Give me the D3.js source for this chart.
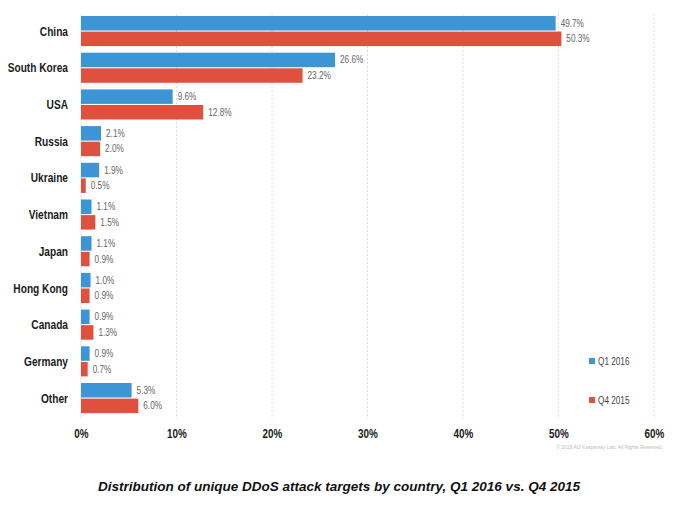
<!DOCTYPE html>
<html>
<head>
<meta charset="utf-8">
<script src="https://cdn.jsdelivr.net/npm/d3@7"></script>
<style>
  body { margin: 0; background: #fff; }
  svg { display: block; }
</style>
</head>
<body>
<div id="chart"></div>
<script>
const countries = ["China", "South Korea", "USA", "Russia", "Ukraine", "Vietnam", "Japan", "Hong Kong", "Canada", "Germany", "Other"];
const seriesNames = ["Q1 2016", "Q4 2015"];
const q1_2016 = [49.7, 26.6, 9.6, 2.1, 1.9, 1.1, 1.1, 1.0, 0.9, 0.9, 5.3];
const q4_2015 = [50.3, 23.2, 12.8, 2.0, 0.5, 1.5, 0.9, 0.9, 1.3, 0.7, 6.0];
const xTicks = [0, 10, 20, 30, 40, 50, 60];
const colors = ["#3d95d6", "#e0503f"];

const width = 700, height = 505;
const font = "'Liberation Sans', Arial, sans-serif";

// squeeze text horizontally, the original uses a condensed face
function condense(sel, k) {
  sel.each(function() {
    const w = this.getComputedTextLength();
    d3.select(this).attr("textLength", w * k).attr("lengthAdjust", "spacingAndGlyphs");
  });
}

const svg = d3.select("#chart").append("svg")
    .attr("width", width).attr("height", height);

const x = d3.scaleLinear().domain([0, 60]).range([81, 654]);

const y = d3.scaleBand()
    .domain(countries)
    .range([12.7, 416.4])
    .paddingInner(0.18)
    .paddingOuter(0.09);

const ySub = d3.scaleBand()
    .domain(seriesNames)
    .range([0, y.bandwidth()])
    .paddingInner(0.07);

// grid
svg.append("g").selectAll("line")
    .data(xTicks.filter(d => d > 0))
  .enter().append("line")
    .attr("x1", d => x(d)).attr("x2", d => x(d))
    .attr("y1", 14).attr("y2", 419)
    .style("stroke", "#dcdcdc")
    .style("stroke-width", 1)
    .style("stroke-dasharray", "2,2");

svg.append("line")
    .attr("x1", x(0)).attr("x2", x(0))
    .attr("y1", 14).attr("y2", 419)
    .style("stroke", "#e6e6e6");

const rows = countries.map((c, i) => ({country: c, values: [q1_2016[i], q4_2015[i]]}));

const groups = svg.append("g").selectAll("g")
    .data(rows)
  .enter().append("g")
    .attr("transform", d => "translate(0," + y(d.country) + ")");

groups.selectAll("rect")
    .data(d => d.values.map((v, j) => ({series: seriesNames[j], value: v, j: j})))
  .enter().append("rect")
    .attr("x", x(0))
    .attr("y", d => ySub(d.series))
    .attr("width", d => x(d.value) - x(0))
    .attr("height", ySub.bandwidth())
    .style("fill", d => colors[d.j]);

groups.selectAll("text.val")
    .data(d => d.values.map((v, j) => ({series: seriesNames[j], value: v})))
  .enter().append("text")
    .attr("class", "val")
    .attr("x", d => x(d.value) + 5)
    .attr("y", d => ySub(d.series) + ySub.bandwidth() / 2)
    .attr("dy", "0.35em")
    .style("font-family", font)
    .style("font-size", "10px")
    .style("fill", "#666")
    .text(d => d.value.toFixed(1) + "%")
    .call(condense, 0.82);

// country labels
svg.append("g").selectAll("text")
    .data(countries)
  .enter().append("text")
    .attr("x", 68)
    .attr("y", d => y(d) + y.bandwidth() / 2)
    .attr("dy", "0.35em")
    .attr("text-anchor", "end")
    .style("font-family", font)
    .style("font-weight", "bold")
    .style("font-size", "13px")
    .style("fill", "#1a1a1a")
    .text(d => d)
    .call(condense, 0.78);

// x axis
const xAxis = svg.append("g")
    .attr("transform", "translate(0,428)")
    .call(d3.axisBottom(x).tickValues(xTicks).tickSize(0).tickPadding(0).tickFormat(d => d + "%"));
xAxis.select(".domain").remove();
xAxis.selectAll("text")
    .attr("dy", "0.75em")
    .style("font-family", font)
    .style("font-weight", "bold")
    .style("font-size", "13px")
    .style("fill", "#1a1a1a")
    .call(condense, 0.76);

// legend
const legend = svg.append("g").selectAll("g")
    .data(seriesNames)
  .enter().append("g")
    .attr("transform", (d, i) => "translate(589," + (361 + i * 39) + ")");
legend.append("rect")
    .attr("x", 0).attr("y", -3)
    .attr("width", 6).attr("height", 6)
    .style("fill", (d, i) => colors[i]);
legend.append("text")
    .attr("x", 9).attr("y", 0).attr("dy", "0.35em")
    .style("font-family", font)
    .style("font-size", "10px")
    .style("fill", "#444")
    .text(d => d)
    .call(condense, 0.82);

// copyright
svg.append("text")
    .attr("x", 663).attr("y", 449)
    .attr("text-anchor", "end")
    .style("font-family", font)
    .style("font-size", "5px")
    .style("fill", "#bbb")
    .text("\u00a9 2016 AO Kaspersky Lab. All Rights Reserved.");

// caption
svg.append("text")
    .attr("x", 339).attr("y", 491)
    .attr("text-anchor", "middle")
    .style("font-family", font)
    .style("font-weight", "bold")
    .style("font-style", "italic")
    .style("font-size", "13.5px")
    .style("fill", "#111")
    .text("Distribution of unique DDoS attack targets by country, Q1 2016 vs. Q4 2015");
</script>
</body>
</html>
